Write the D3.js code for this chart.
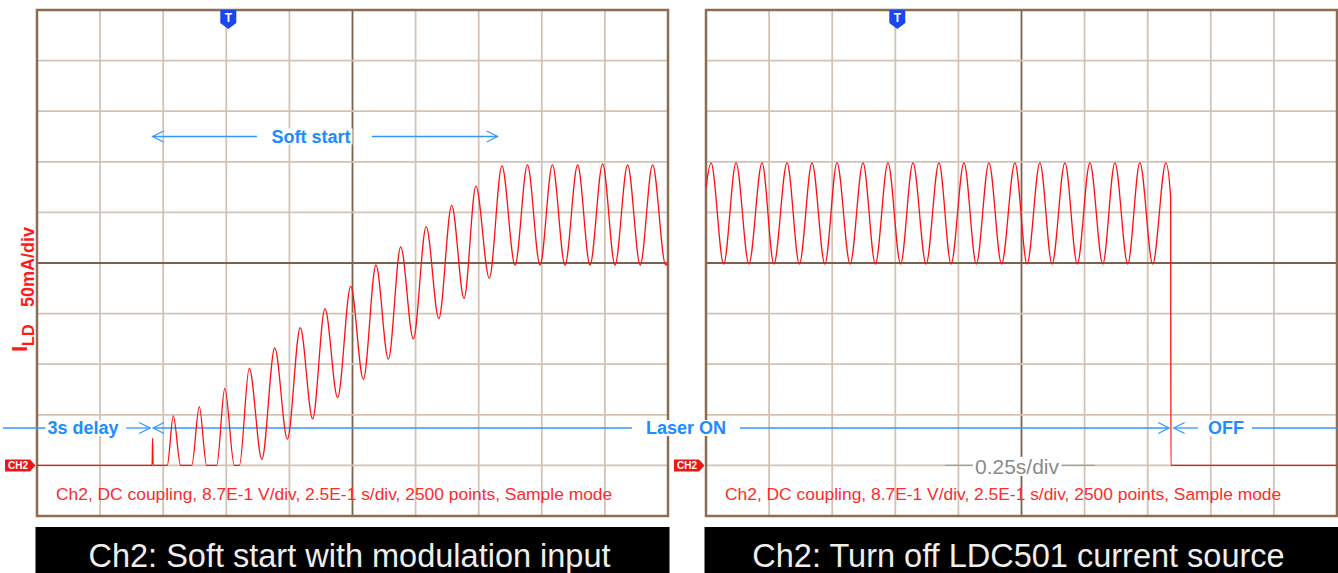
<!DOCTYPE html>
<html>
<head>
<meta charset="utf-8">
<script src="https://cdn.jsdelivr.net/npm/d3@7"></script>
<style>
  body { margin: 0; background: #fff; }
  svg { display: block; font-family: "Liberation Sans", Arial, sans-serif; }
</style>
</head>
<body>
<script>
// VARIABLES
const width = 1338;
const height = 573;

// DATA
// time in s (trigger = 0), current in mA above ground, read at the trace extrema
const softStartTime = [-0.75, -0.294, -0.292, -0.290, -0.234, -0.210, -0.181, -0.137, -0.107, -0.078, -0.038, -0.006,
    0.032, 0.052, 0.091, 0.141, 0.192, 0.242, 0.293, 0.342, 0.391, 0.441, 0.493, 0.543, 0.593, 0.642, 0.691, 0.741,
    0.792, 0.842, 0.893, 0.942, 0.989, 1.042, 1.092, 1.144, 1.193, 1.243, 1.292, 1.342, 1.392, 1.441, 1.491, 1.540,
    1.590, 1.640, 1.689, 1.741, 1.75];
const softStartCurrent = [0, 0, 27, 0, 0, 49, 0, 0, 58, 0, 0, 76,
    0, 0, 96, 6, 116, 26, 136, 46, 155, 67, 177, 85, 198, 105, 216, 125,
    236, 145, 257, 165, 276, 185, 296, 198, 297, 198, 297, 198, 297, 198, 298, 198,
    297, 198, 297, 198, 199];

const turnOffTime = [-0.75, -0.730, -0.680, -0.631, -0.580, -0.528, -0.481, -0.429, -0.380, -0.330, -0.279, -0.231,
    -0.179, -0.128, -0.079, -0.029, 0.021, 0.070, 0.122, 0.173, 0.221, 0.272, 0.321, 0.371, 0.421, 0.474, 0.522,
    0.573, 0.621, 0.672, 0.721, 0.771, 0.822, 0.870, 0.921, 0.969, 1.020, 1.072, 1.091, 1.092, 1.75];
const turnOffCurrent = [275, 299, 199, 299, 199, 299, 199, 299, 199, 299, 199, 299,
    199, 299, 199, 299, 199, 299, 199, 299, 199, 299, 199, 299, 199, 299, 199,
    299, 199, 299, 199, 299, 199, 299, 199, 299, 199, 299, 265, 0, 0];

// grid divisions (0.25 s/div, 50 mA/div)
const timeTicks = [-0.75, -0.5, -0.25, 0, 0.25, 0.5, 0.75, 1, 1.25, 1.5, 1.75];
const currentTicks = [-50, 0, 50, 100, 150, 200, 250, 300, 350, 400, 450];
const centerTime = 0.5;
const centerCurrent = 200;

// annotation times (s)
const delayEnd = -0.296;
const softStartEnd = 1.075;
const offTime = 1.093;

const captions = ["Ch2: Soft start with modulation input", "Ch2: Turn off LDC501 current source"];
const infoText = "Ch2, DC coupling, 8.7E-1 V/div, 2.5E-1 s/div, 2500 points, Sample mode";
const timebaseLabel = "0.25s/div";

// colors
const traceColor = "#ff1010";
const blueLine = "#3297ff";
const blueText = "#1c8cff";

// define svg
const svg = d3.select("body")
    .append("svg")
        .attr("width", width)
        .attr("height", height)
        .attr("viewBox", [0, 0, width, height]);

const y = d3.scaleLinear()
    .domain([-50, 450])
    .range([516, 10]);

const xLeft = d3.scaleLinear().domain([-0.75, 1.75]).range([37, 668]);
const xRight = d3.scaleLinear().domain([-0.75, 1.75]).range([706, 1337]);

// FUNCTIONS
function drawGrid(x) {
    const g = svg.append("g").attr("class", "grid");
    g.selectAll("line.v")
        .data(timeTicks)
        .enter()
        .append("line")
            .attr("x1", d => x(d)).attr("x2", d => x(d))
            .attr("y1", y(450)).attr("y2", y(-50))
            .attr("stroke", d => d == centerTime ? "#7b624c" : "#d3c3b6")
            .attr("stroke-width", 1.8);
    g.selectAll("line.h")
        .data(currentTicks)
        .enter()
        .append("line")
            .attr("x1", x(-0.75)).attr("x2", x(1.75))
            .attr("y1", d => y(d)).attr("y2", d => y(d))
            .attr("stroke", d => d == centerCurrent ? "#7b624c" : "#d3c3b6")
            .attr("stroke-width", 1.8);
    g.append("rect")
        .attr("x", x(-0.75)).attr("y", y(450))
        .attr("width", x(1.75) - x(-0.75)).attr("height", y(-50) - y(450))
        .attr("fill", "none")
        .attr("stroke", "#8c6d52")
        .attr("stroke-width", 2.5);
}

function drawTrace(x, times, values) {
    const line = d3.line()
        .x(d => x(d[0]))
        .y(d => y(d[1]))
        .curve(d3.curveMonotoneX);
    svg.append("path")
        .datum(d3.zip(times, values))
        .attr("d", line)
        .attr("fill", "none")
        .attr("stroke", traceColor)
        .attr("stroke-width", 1.3)
        .attr("stroke-linejoin", "round");
}

function drawMarkers(x) {
    // trigger marker
    const tx = x(0) + 2;
    svg.append("path")
        .attr("d", `M ${tx - 8} 10 L ${tx + 8} 10 L ${tx + 8} 23 L ${tx} 29 L ${tx - 8} 23 Z`)
        .attr("fill", "#1d46e8");
    svg.append("text")
        .attr("x", tx).attr("y", 22)
        .attr("text-anchor", "middle")
        .attr("fill", "#fff")
        .attr("font-size", 12)
        .attr("font-weight", "bold")
        .text("T");
    // channel ground marker
    const gy = y(0);
    const left = x(-0.75);
    svg.append("path")
        .attr("d", `M ${left - 32} ${gy - 6} L ${left - 7} ${gy - 6} L ${left - 1.5} ${gy} L ${left - 7} ${gy + 6} L ${left - 32} ${gy + 6} Z`)
        .attr("fill", "#ee1515");
    svg.append("text")
        .attr("x", left - 19).attr("y", gy + 4)
        .attr("text-anchor", "middle")
        .attr("fill", "#fff")
        .attr("font-size", 10)
        .attr("font-weight", "bold")
        .text("CH2");
}

function drawCaption(x, label) {
    const x0 = x(-0.75) - 1.5, x1 = x(1.75) + 1.5;
    svg.append("rect")
        .attr("x", x0).attr("y", 527)
        .attr("width", x1 - x0).attr("height", height - 527)
        .attr("fill", "#000");
    svg.append("text")
        .attr("x", (x0 + x1) / 2 - 3).attr("y", 567)
        .attr("text-anchor", "middle")
        .attr("fill", "#eeeeee")
        .attr("font-size", 32.5)
        .text(label);
    svg.append("text")
        .attr("x", x(-0.75) + 19).attr("y", 500)
        .attr("fill", "#ff2a2a")
        .attr("font-size", 17.4)
        .text(infoText);
}

function hLine(x1, x2, yy, color) {
    svg.append("line")
        .attr("x1", x1).attr("x2", x2)
        .attr("y1", yy).attr("y2", yy)
        .attr("stroke", color || blueLine)
        .attr("stroke-width", 1.3);
}

function chevron(xTip, yy, dir) {
    svg.append("path")
        .attr("d", `M ${xTip - dir * 11} ${yy - 5.5} L ${xTip} ${yy} L ${xTip - dir * 11} ${yy + 5.5}`)
        .attr("fill", "none")
        .attr("stroke", blueLine)
        .attr("stroke-width", 1.2);
}

function label(text, cx, cy, opts) {
    opts = opts || {};
    const t = svg.append("text")
        .attr("x", cx).attr("y", cy)
        .attr("text-anchor", "middle")
        .attr("dominant-baseline", "central")
        .attr("fill", opts.color || blueText)
        .attr("font-size", opts.size || 18)
        .attr("font-weight", opts.weight || "bold")
        .text(text);
    const b = t.node().getBBox();
    svg.insert("rect", () => t.node())
        .attr("x", b.x - 2).attr("y", b.y + 2)
        .attr("width", b.width + 4).attr("height", b.height - 4)
        .attr("fill", "#fff");
}

// PLOT
drawGrid(xLeft);
drawGrid(xRight);

// annotations
const onY = 428;
const softY = 136.5;

// soft start arrow
hLine(xLeft(delayEnd) + 1, 257, softY);
chevron(xLeft(delayEnd) + 1, softY, -1);
hLine(372, xLeft(softStartEnd), softY);
chevron(xLeft(softStartEnd), softY, 1);
label("Soft start", 311, softY);

// 3s delay / laser on / off line
hLine(3, 46, onY);
label("3s delay", 83, onY);
hLine(126, xLeft(delayEnd) - 1.5, onY);
chevron(xLeft(delayEnd) - 1.5, onY, 1);
chevron(xLeft(delayEnd) + 1.5, onY, -1);
hLine(xLeft(delayEnd) + 1.5, 632, onY);
label("Laser ON", 686, onY);
hLine(740, xRight(offTime) - 2, onY);
chevron(xRight(offTime) - 2, onY, 1);
chevron(xRight(offTime) + 2.5, onY, -1);
hLine(xRight(offTime) + 2.5, 1198, onY);
label("OFF", 1226, onY);
hLine(1252, 1337, onY);

// timebase label
hLine(945, 1095, y(0), "#a0a0a0");
label(timebaseLabel, 1017, y(0) + 1, {color: "#8a8a8a", size: 21, weight: "normal"});

drawTrace(xLeft, softStartTime, softStartCurrent);
drawTrace(xRight, turnOffTime, turnOffCurrent);

drawMarkers(xLeft);
drawMarkers(xRight);

drawCaption(xLeft, captions[0]);
drawCaption(xRight, captions[1]);

// y axis label
const yl = svg.append("text")
    .attr("transform", "translate(27, 352) rotate(-90)")
    .attr("fill", "#ff1a1a")
    .attr("font-weight", "bold");
yl.append("tspan").attr("font-size", 22).text("I");
yl.append("tspan").attr("font-size", 16).attr("dy", 6.5).text("LD");
yl.append("tspan").attr("font-size", 18).attr("x", 45).text("50mA/div");
</script>
</body>
</html>
